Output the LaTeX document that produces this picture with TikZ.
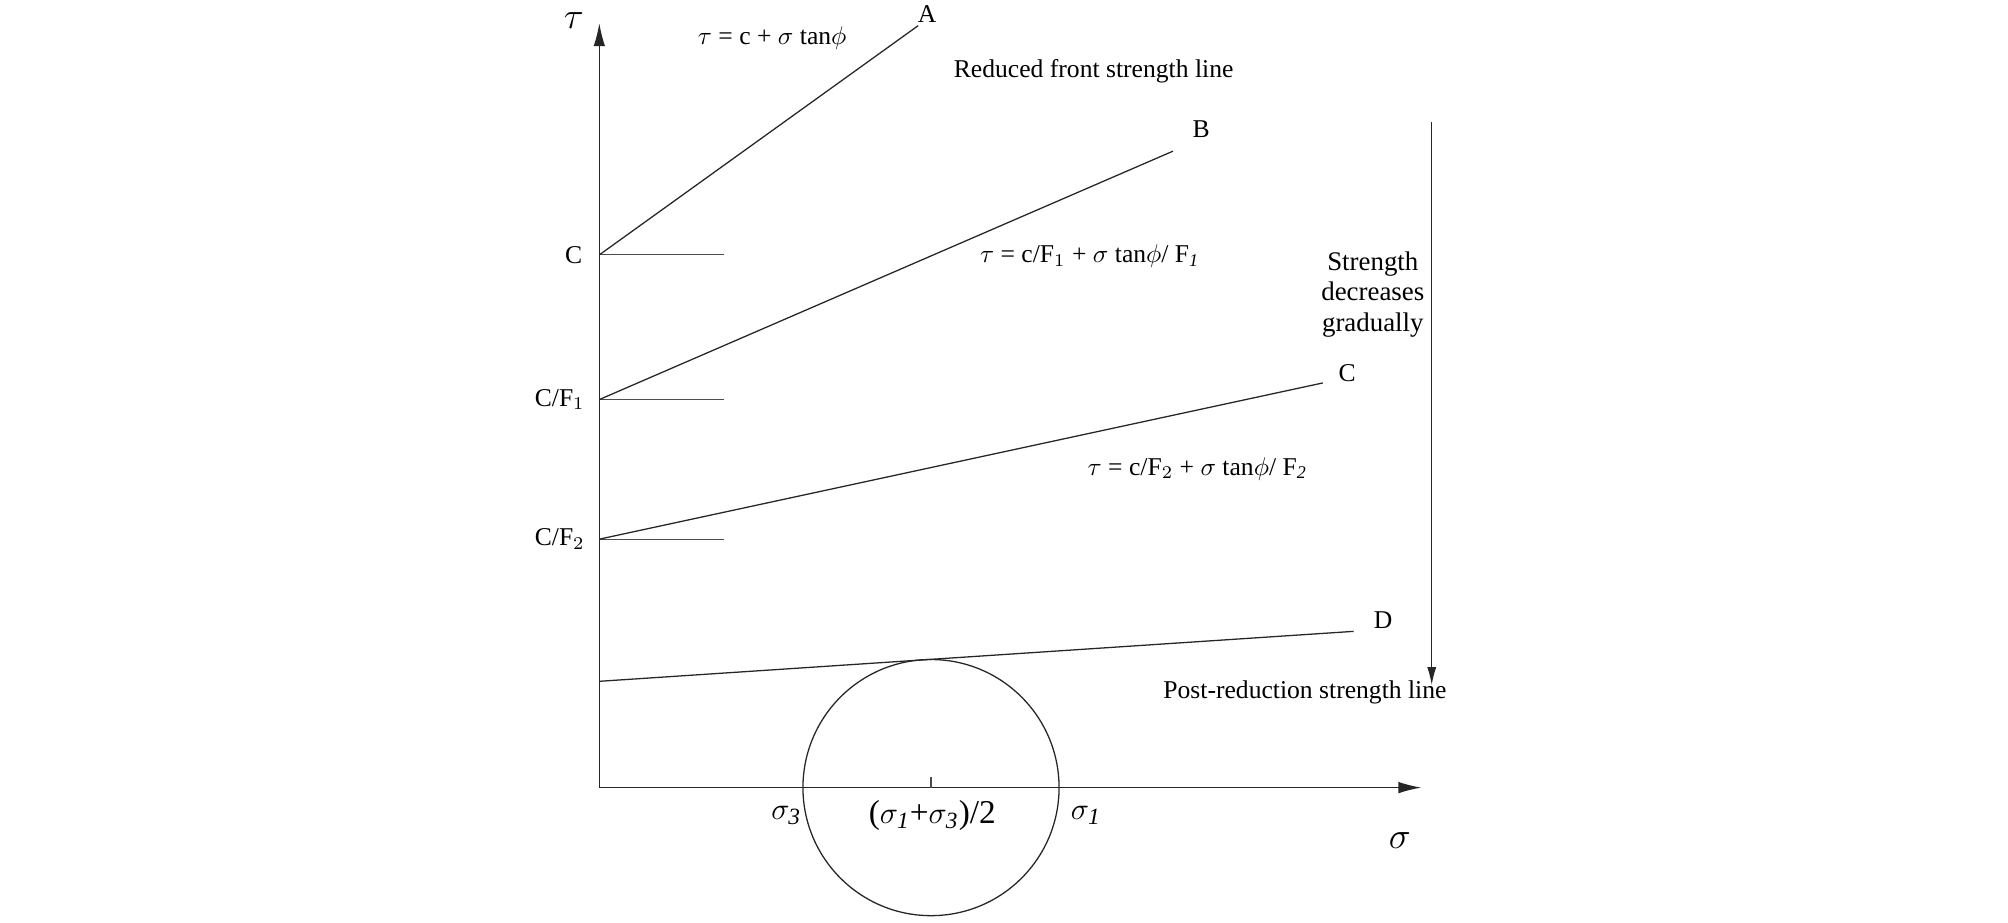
\documentclass[tikz,border=0pt]{standalone}
\usepackage{fontspec}
\setmainfont{Liberation Serif}
\usetikzlibrary{arrows.meta}

\begin{document}
\begin{tikzpicture}[x=0.5pt, y=-0.5pt]
        \tikzstyle{every node}=[inner sep=1pt, font=\fontsize{10}{12}\selectfont]
        \tikzstyle{axis}=[line width=0.6pt, black!85, -{Latex[length=9pt,width=4.5pt]}]
        \tikzstyle{envelope}=[line width=0.5pt, black!85]
        \tikzstyle{tick}=[line width=0.5pt, black!70]
        \tikzstyle{big}=[font=\fontsize{13}{15}\selectfont]
        \tikzstyle{axislabel}=[font=\fontsize{14}{16}\selectfont]
        \useasboundingbox (0,0) rectangle (1568,720);
        % axes
        \coordinate (O) at (468,615);
        \coordinate (ytop) at (468,18);
        \coordinate (xend) at (1110,615);
        \draw [axis] (O) -- (ytop);
        \draw [axis] (O) -- (xend);
        \node [axislabel] (tau) at (448,16) {$\tau$};
        \node [axislabel] (sigma) at (1093,656) {$\sigma$};
        % intercepts on the tau axis
        \coordinate (c0) at (468,199);
        \coordinate (c1) at (468,312);
        \coordinate (c2) at (468,421);
        \coordinate (c3) at (468,532);
        \draw [tick] (c0) -- (565,199);
        \draw [tick] (c1) -- (565,312);
        \draw [tick] (c2) -- (565,421);
        \node [anchor=east] (lc0) at (457,199) {C};
        \node [anchor=east] (lc1) at (459,312) {C/F$_1$};
        \node [anchor=east] (lc2) at (459,421) {C/F$_2$};
        % strength lines
        \coordinate (a) at (717,20);
        \coordinate (b) at (916,118);
        \coordinate (c) at (1033,299);
        \coordinate (d) at (1057,493);
        \draw [envelope] (c0) -- (a);
        \draw [envelope] (c1) -- (b);
        \draw [envelope] (c2) -- (c);
        \draw [envelope] (c3) -- (d);
        \node (la) at (724,11) {A};
        \node (lb) at (938,101) {B};
        \node (lc) at (1052,291) {C};
        \node (ld) at (1080,484) {D};
        \node (eqa) at (603,30) {$\tau$ = c + $\sigma$ tan$\phi$};
        \node (eqb) at (851,200) {$\tau$ = c/F$_1$ + $\sigma$ tan$\phi$/ F$_{\mathit{1}}$};
        \node (eqc) at (935,366) {$\tau$ = c/F$_2$ + $\sigma$ tan$\phi$/ F$_{\mathit{2}}$};
        \node (front) at (854,56) {Reduced front strength line};
        \node (post) at (1019,541) {Post-reduction strength line};
        % Mohr circle
        \coordinate (m) at (727,615);
        \draw [envelope] (m) circle [radius=100];
        \draw [tick] (m) -- (727,607);
        \node [big] (s3) at (614,637) {$\sigma_{\mathit{3}}$};
        \node [big] (s13) at (728,637) {($\sigma_{\mathit{1}}$+$\sigma_{\mathit{3}}$)/2};
        \node [big] (s1) at (848,637) {$\sigma_{\mathit{1}}$};
        % reduction arrow
        \coordinate (r0) at (1118,95);
        \coordinate (r1) at (1118,535);
        \draw [envelope, -{Latex[length=7pt,width=3.5pt]}] (r0) -- (r1);
        \node [align=center, font=\fontsize{10.5}{12}\selectfont] (dec) at (1072,230) {Strength\\decreases\\gradually};
    \end{tikzpicture}
\end{document}
